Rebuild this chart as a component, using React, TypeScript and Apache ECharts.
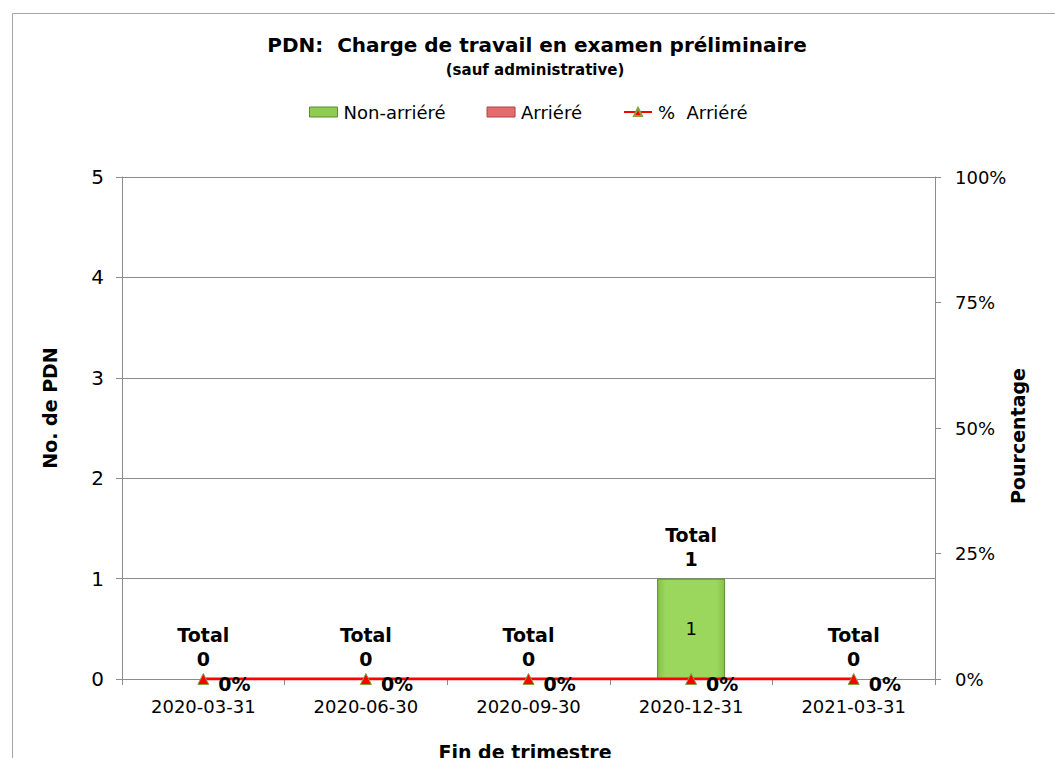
import React, { useEffect, useRef } from "react";
import * as echarts from "echarts";

const categories = ["2020-03-31", "2020-06-30", "2020-09-30", "2020-12-31", "2021-03-31"];
const nonArriere = [0, 0, 0, 1, 0];
const arriere = [0, 0, 0, 0, 0];
const pctArriere = [0, 0, 0, 0, 0];
const leftTicks = [0, 1, 2, 3, 4, 5];
const rightTicks = [0, 25, 50, 75, 100];

const FONT = "'DejaVu Sans', 'Liberation Sans', Arial, sans-serif";

export default function App() {
  const ref = useRef<HTMLDivElement>(null);
  useEffect(() => {
    if (!ref.current) return;
    const chart = echarts.init(ref.current, null, { renderer: "svg" });
    const totals = nonArriere.map((v, i) => v + arriere[i]);
    const greenData = nonArriere.map((v) =>
      v ? { value: v } : { value: v, itemStyle: { borderWidth: 0, opacity: 0 } }
    );
    chart.setOption({
      animation: false,
      backgroundColor: "#ffffff",
      textStyle: { fontFamily: FONT },
      title: [
        {
          text: "PDN:  Charge de travail en examen préliminaire",
          left: 532,
          top: 30,
          textAlign: "center",
          textStyle: { fontFamily: FONT, fontSize: 20, fontWeight: "bold", color: "#000" },
        },
        {
          text: "(sauf administrative)",
          left: 530,
          top: 57,
          textAlign: "center",
          textStyle: { fontFamily: FONT, fontSize: 15, fontWeight: "bold", color: "#000" },
        },
      ],
      legend: {
        top: 98,
        left: 304,
        itemWidth: 28,
        itemHeight: 10,
        itemGap: 41,
        textStyle: { fontFamily: FONT, fontSize: 18, color: "#000", padding: [0, 0, 0, 1] },
        data: [
          { name: "Non-arriéré", icon: "rect", itemStyle: { color: "#8fcc52", borderColor: "#5f8a33", borderWidth: 1, opacity: 1 } },
          { name: "Arriéré", icon: "rect", itemStyle: { color: "#e46c6c", borderColor: "#a84545", borderWidth: 1 } },
          { name: "%  Arriéré" },
        ],
      },
      graphic: [
        {
          type: "rect",
          shape: { x: 12.5, y: 13.5, width: 1200, height: 900 },
          style: { fill: "none", stroke: "#a6a6a6", lineWidth: 1 },
          silent: true,
          z: -10,
        },
        {
          type: "text",
          x: 50,
          y: 408,
          rotation: Math.PI / 2,
          style: {
            text: "No. de PDN",
            fontFamily: FONT,
            fontSize: 19,
            fontWeight: "bold",
            fill: "#000",
            align: "center",
            verticalAlign: "middle",
          },
        },
        {
          type: "text",
          x: 1018,
          y: 436,
          rotation: Math.PI / 2,
          style: {
            text: "Pourcentage",
            fontFamily: FONT,
            fontSize: 19,
            fontWeight: "bold",
            fill: "#000",
            align: "center",
            verticalAlign: "middle",
          },
        },
        {
          type: "text",
          x: 525,
          y: 752,
          style: {
            text: "Fin de trimestre",
            fontFamily: FONT,
            fontSize: 19,
            fontWeight: "bold",
            fill: "#000",
            align: "center",
            verticalAlign: "middle",
          },
        },
      ],
      grid: { left: 122, right: 120, top: 177, bottom: 79, containLabel: false },
      xAxis: {
        type: "category",
        data: categories,
        axisLine: { show: true, lineStyle: { color: "#8c8c8c", width: 1 } },
        axisTick: { show: true, alignWithLabel: false, length: 6, lineStyle: { color: "#8c8c8c" } },
        axisLabel: { fontFamily: FONT, fontSize: 18, color: "#000", margin: 18 },
      },
      yAxis: [
        {
          type: "value",
          min: leftTicks[0],
          max: leftTicks[leftTicks.length - 1],
          interval: 1,
          axisLine: { show: true, lineStyle: { color: "#8c8c8c" } },
          axisTick: { show: true, length: 6, lineStyle: { color: "#8c8c8c" } },
          axisLabel: { fontFamily: FONT, fontSize: 20, color: "#000", margin: 18 },
          splitLine: { show: true, lineStyle: { color: "#8c8c8c", width: 1 } },
        },
        {
          type: "value",
          min: rightTicks[0],
          max: rightTicks[rightTicks.length - 1],
          interval: 25,
          position: "right",
          axisLine: { show: true, lineStyle: { color: "#8c8c8c" } },
          axisTick: { show: true, length: 6, lineStyle: { color: "#8c8c8c" } },
          axisLabel: { fontFamily: FONT, fontSize: 18, color: "#000", margin: 20, formatter: "{value}%" },
          splitLine: { show: false },
        },
      ],
      series: [
        {
          name: "Non-arriéré",
          type: "bar",
          stack: "total",
          barWidth: 68,
          data: greenData,
          itemStyle: {
            color: new echarts.graphic.LinearGradient(0, 0, 1, 0, [
              { offset: 0, color: "#86c24a" },
              { offset: 0.12, color: "#9bd75c" },
              { offset: 0.88, color: "#9bd75c" },
              { offset: 1, color: "#86c24a" },
            ]),
            borderColor: "#5f8a33",
            borderWidth: 1,
          },
          label: {
            show: true,
            position: "inside",
            fontFamily: FONT,
            fontSize: 18,
            color: "#000",
            formatter: (p: any) => (p.value ? String(p.value) : ""),
          },
        },
        {
          name: "Arriéré",
          type: "bar",
          stack: "total",
          barWidth: 68,
          data: arriere,
          itemStyle: { color: "#e46c6c", borderWidth: 0 },
          label: {
            show: true,
            position: "top",
            distance: 8,
            fontFamily: FONT,
            fontSize: 19,
            fontWeight: "bold",
            lineHeight: 24,
            color: "#000",
            formatter: (p: any) => "Total\n" + totals[p.dataIndex],
          },
        },
        {
          name: "%  Arriéré",
          type: "line",
          yAxisIndex: 1,
          data: pctArriere,
          z: 5,
          symbol: "triangle",
          symbolSize: 11,
          lineStyle: { color: "#ff0000", width: 3 },
          itemStyle: { color: "#ff0000", borderColor: "#8aa040", borderWidth: 1 },
          label: {
            show: true,
            position: "right",
            offset: [4, 5],
            fontFamily: FONT,
            fontSize: 19,
            fontWeight: "bold",
            color: "#000",
            formatter: (p: any) => p.value + "%",
          },
        },
      ],
    });
    return () => chart.dispose();
  }, []);
  return (
    <div
      ref={ref}
      style={{ position: "fixed", left: 0, top: 0, width: 1055, height: 758 }}
    />
  );
}
